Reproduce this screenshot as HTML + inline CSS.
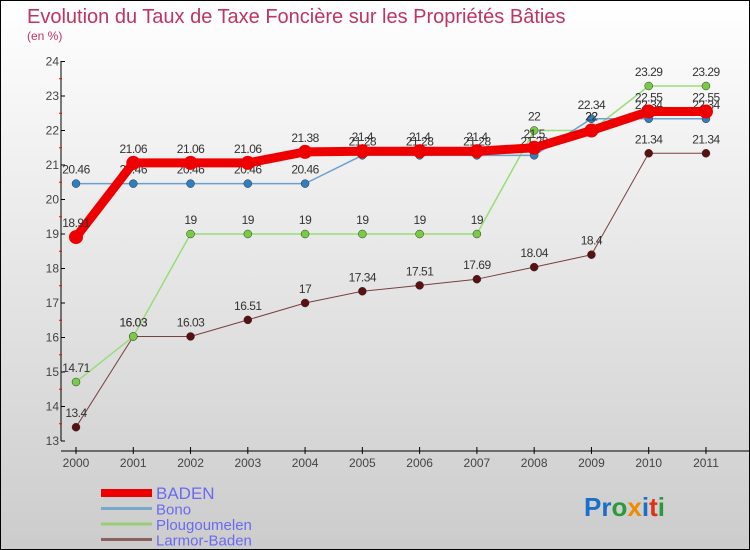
<!DOCTYPE html>
<html><head><meta charset="utf-8"><style>
body{margin:0;}
#c{width:748px;height:548px;border:1px solid #000;background:linear-gradient(#fff,#ccc);position:relative;overflow:hidden;font-family:"Liberation Sans",sans-serif;}
</style></head><body>
<div id="c">
<svg id="s" width="748" height="548" xmlns="http://www.w3.org/2000/svg">
<text x="26" y="22" font-size="20" fill="#c0345f">Evolution du Taux de Taxe Foncière sur les Propriétés Bâties</text>
<text x="26" y="39" font-size="12" fill="#c0345f">(en %)</text>
<g id="axes"></g><g id="series"></g><g id="legend"></g>
<text x="583" y="515" font-size="26" font-weight="bold"><tspan fill="#1a6fc9">Pr</tspan><tspan fill="#2a9a3a">o</tspan><tspan fill="#f08a00">x</tspan><tspan fill="#1a6fc9">i</tspan><tspan fill="#e03010">t</tspan><tspan fill="#2a9a3a">i</tspan></text>
</svg>
</div>
<script>
const years=[2000,2001,2002,2003,2004,2005,2006,2007,2008,2009,2010,2011];
const yTicks=[13,14,15,16,17,18,19,20,21,22,23,24];
const seriesNames=["BADEN","Bono","Plougoumelen","Larmor-Baden"];
const baden=[18.91,21.06,21.06,21.06,21.38,21.4,21.4,21.4,21.5,22,22.55,22.55];
const bono=[20.46,20.46,20.46,20.46,20.46,21.28,21.28,21.28,21.28,22.34,22.34,22.34];
const plougoumelen=[14.71,16.03,19,19,19,19,19,19,22,22,23.29,23.29];
const larmor=[13.4,16.03,16.03,16.51,17,17.34,17.51,17.69,18.04,18.4,21.34,21.34];
const NS="http://www.w3.org/2000/svg";
const X=i=>75+i*57.27, Y=v=>440-(v-13)*34.5;
function mk(t,a,p){const e=document.createElementNS(NS,t);for(const k in a)e.setAttribute(k,a[k]);p.appendChild(e);return e;}
const ax=document.getElementById('axes');
let l=mk('line',{x1:60,y1:60,x2:60,y2:440,stroke:'#000'},ax);


l=mk('line',{x1:60,y1:450,x2:748,y2:450,stroke:'#000'},ax);


yTicks.forEach((v,i)=>{mk('line',{x1:60,y1:Y(v),x2:64,y2:Y(v),stroke:'#000'},ax);
 if(i<yTicks.length-1)mk('line',{x1:58,y1:Y(v+0.5),x2:61,y2:Y(v+0.5),stroke:'red'},ax);
 const t=mk('text',{x:58,y:Y(v)+4,'font-size':12,fill:'#444','text-anchor':'end'},ax);t.textContent=v;
 
 });
years.forEach((y,i)=>{mk('line',{x1:X(i),y1:446,x2:X(i),y2:453,stroke:'#000'},ax);
 const t=mk('text',{x:X(i),y:466,'font-size':12,fill:'#444','text-anchor':'middle'},ax);t.textContent=y;
 
 });
const sg=document.getElementById('series');
const defs=[[larmor,'#7a3f3f',1,'#5a1010',4,'larmor-baden'],[plougoumelen,'#99dd77',1.5,'#77cc44',4,'plougoumelen'],[bono,'#6aa0d0',1.5,'#2f7fc0',4,'bono'],[baden,'#ee0000',9,'#ee0000',7,'baden']];
defs.forEach(([d,c,w,mc,r,n])=>{
 const p=mk('polyline',{points:d.map((v,i)=>X(i)+','+Y(v)).join(' '),fill:'none',stroke:c,'stroke-width':w,'stroke-linejoin':'round'},sg);
 
 
 d.forEach((v,i)=>{const ci=mk('circle',{cx:X(i),cy:Y(v),r:r,fill:mc,stroke:n=='baden'?'none':'#333','stroke-width':0.5},sg);
  
  
  const t=mk('text',{x:X(i),y:Y(v)-10,'font-size':12,fill:'#333','text-anchor':'middle','letter-spacing':'-0.5'},sg);t.textContent=v;
  
  });
});
const lg=document.getElementById('legend');
const lc=['#ee0000','#7aa8cc','#99cc77','#8b6060'],lw=[8,3,3,3],fs=[17,15,15,15];
seriesNames.forEach((n,i)=>{const y=492+i*15.5;
 const li=mk('line',{x1:100,y1:y,x2:151,y2:y,stroke:lc[i],'stroke-width':lw[i]},lg);
 
 
 const t=mk('text',{x:155,y:y+6,'font-size':fs[i],fill:'#6a6af0'},lg);t.textContent=n;
 
 });
</script>
</body></html>
